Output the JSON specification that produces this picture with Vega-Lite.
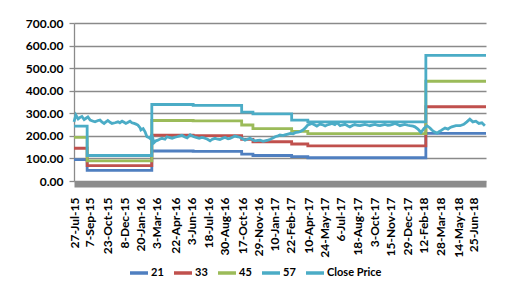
{
  "$schema": "https://vega.github.io/schema/vega-lite/v6.json",
  "autosize": {"type": "none"},
  "padding": {"left": 74, "top": 23, "right": 20, "bottom": 100},
  "width": 412,
  "height": 158,
  "background": "white",
  "config": {
    "view": {"stroke": null},
    "font": "Lato",
    "axis": {"labelFont": "Lato", "labelFontWeight": "bold", "labelFontSize": 12, "labelColor": "#000000"}
  },
  "datasets": {
    "steps": [
      {"date": "2015-07-27", "series": "21", "value": 95},
      {"date": "2015-08-31", "series": "21", "value": 47},
      {"date": "2016-02-19", "series": "21", "value": 133},
      {"date": "2016-06-08", "series": "21", "value": 131},
      {"date": "2016-10-15", "series": "21", "value": 119},
      {"date": "2016-11-14", "series": "21", "value": 113},
      {"date": "2017-02-25", "series": "21", "value": 108},
      {"date": "2017-04-09", "series": "21", "value": 103},
      {"date": "2018-02-17", "series": "21", "value": 211},
      {"date": "2018-07-27", "series": "21", "value": 211},
      {"date": "2015-07-27", "series": "33", "value": 145},
      {"date": "2015-08-31", "series": "33", "value": 68},
      {"date": "2016-02-19", "series": "33", "value": 203},
      {"date": "2016-06-08", "series": "33", "value": 201},
      {"date": "2016-10-15", "series": "33", "value": 184},
      {"date": "2016-11-14", "series": "33", "value": 174},
      {"date": "2017-02-25", "series": "33", "value": 164},
      {"date": "2017-04-09", "series": "33", "value": 156},
      {"date": "2018-02-17", "series": "33", "value": 329},
      {"date": "2018-07-27", "series": "33", "value": 329},
      {"date": "2015-07-27", "series": "45", "value": 193},
      {"date": "2015-08-31", "series": "45", "value": 89},
      {"date": "2016-02-19", "series": "45", "value": 268},
      {"date": "2016-06-08", "series": "45", "value": 266},
      {"date": "2016-10-15", "series": "45", "value": 248},
      {"date": "2016-11-14", "series": "45", "value": 232},
      {"date": "2017-02-25", "series": "45", "value": 220},
      {"date": "2017-04-09", "series": "45", "value": 210},
      {"date": "2018-02-17", "series": "45", "value": 442},
      {"date": "2018-07-27", "series": "45", "value": 442},
      {"date": "2015-07-27", "series": "57", "value": 243},
      {"date": "2015-08-31", "series": "57", "value": 113},
      {"date": "2016-02-19", "series": "57", "value": 339},
      {"date": "2016-06-08", "series": "57", "value": 335},
      {"date": "2016-10-15", "series": "57", "value": 305},
      {"date": "2016-11-14", "series": "57", "value": 297},
      {"date": "2017-02-25", "series": "57", "value": 270},
      {"date": "2017-04-09", "series": "57", "value": 262},
      {"date": "2018-02-17", "series": "57", "value": 557},
      {"date": "2018-07-27", "series": "57", "value": 557}
    ],
    "close": [
      {"date": "2015-07-27", "series": "Close Price", "value": 262},
      {"date": "2015-08-01", "series": "Close Price", "value": 292},
      {"date": "2015-08-07", "series": "Close Price", "value": 275},
      {"date": "2015-08-12", "series": "Close Price", "value": 282},
      {"date": "2015-08-17", "series": "Close Price", "value": 286},
      {"date": "2015-08-23", "series": "Close Price", "value": 272},
      {"date": "2015-08-28", "series": "Close Price", "value": 278},
      {"date": "2015-09-02", "series": "Close Price", "value": 284},
      {"date": "2015-09-08", "series": "Close Price", "value": 270},
      {"date": "2015-09-16", "series": "Close Price", "value": 265},
      {"date": "2015-09-21", "series": "Close Price", "value": 262},
      {"date": "2015-09-29", "series": "Close Price", "value": 268},
      {"date": "2015-10-04", "series": "Close Price", "value": 270},
      {"date": "2015-10-09", "series": "Close Price", "value": 262},
      {"date": "2015-10-15", "series": "Close Price", "value": 255},
      {"date": "2015-10-20", "series": "Close Price", "value": 262},
      {"date": "2015-10-25", "series": "Close Price", "value": 268},
      {"date": "2015-10-31", "series": "Close Price", "value": 260},
      {"date": "2015-11-05", "series": "Close Price", "value": 255},
      {"date": "2015-11-13", "series": "Close Price", "value": 258},
      {"date": "2015-11-21", "series": "Close Price", "value": 262},
      {"date": "2015-11-26", "series": "Close Price", "value": 258},
      {"date": "2015-12-02", "series": "Close Price", "value": 265},
      {"date": "2015-12-07", "series": "Close Price", "value": 260},
      {"date": "2015-12-12", "series": "Close Price", "value": 255},
      {"date": "2015-12-18", "series": "Close Price", "value": 260},
      {"date": "2015-12-23", "series": "Close Price", "value": 265},
      {"date": "2015-12-28", "series": "Close Price", "value": 258},
      {"date": "2016-01-03", "series": "Close Price", "value": 255},
      {"date": "2016-01-08", "series": "Close Price", "value": 252},
      {"date": "2016-01-13", "series": "Close Price", "value": 248},
      {"date": "2016-01-19", "series": "Close Price", "value": 235},
      {"date": "2016-01-21", "series": "Close Price", "value": 226},
      {"date": "2016-01-27", "series": "Close Price", "value": 232},
      {"date": "2016-02-01", "series": "Close Price", "value": 218},
      {"date": "2016-02-06", "series": "Close Price", "value": 196},
      {"date": "2016-02-12", "series": "Close Price", "value": 192},
      {"date": "2016-02-14", "series": "Close Price", "value": 189},
      {"date": "2016-02-19", "series": "Close Price", "value": 203},
      {"date": "2016-02-25", "series": "Close Price", "value": 170},
      {"date": "2016-03-01", "series": "Close Price", "value": 178},
      {"date": "2016-03-06", "series": "Close Price", "value": 181},
      {"date": "2016-03-12", "series": "Close Price", "value": 186},
      {"date": "2016-03-17", "series": "Close Price", "value": 189},
      {"date": "2016-03-25", "series": "Close Price", "value": 185},
      {"date": "2016-03-30", "series": "Close Price", "value": 196},
      {"date": "2016-04-07", "series": "Close Price", "value": 192},
      {"date": "2016-04-13", "series": "Close Price", "value": 189},
      {"date": "2016-04-21", "series": "Close Price", "value": 194},
      {"date": "2016-04-26", "series": "Close Price", "value": 196},
      {"date": "2016-05-04", "series": "Close Price", "value": 200},
      {"date": "2016-05-09", "series": "Close Price", "value": 203},
      {"date": "2016-05-17", "series": "Close Price", "value": 195},
      {"date": "2016-05-23", "series": "Close Price", "value": 191},
      {"date": "2016-05-31", "series": "Close Price", "value": 205},
      {"date": "2016-06-05", "series": "Close Price", "value": 200},
      {"date": "2016-06-10", "series": "Close Price", "value": 196},
      {"date": "2016-06-18", "series": "Close Price", "value": 192},
      {"date": "2016-06-24", "series": "Close Price", "value": 189},
      {"date": "2016-07-01", "series": "Close Price", "value": 193},
      {"date": "2016-07-07", "series": "Close Price", "value": 191},
      {"date": "2016-07-15", "series": "Close Price", "value": 186},
      {"date": "2016-07-23", "series": "Close Price", "value": 178},
      {"date": "2016-07-28", "series": "Close Price", "value": 184},
      {"date": "2016-08-05", "series": "Close Price", "value": 189},
      {"date": "2016-08-13", "series": "Close Price", "value": 185},
      {"date": "2016-08-18", "series": "Close Price", "value": 184},
      {"date": "2016-08-26", "series": "Close Price", "value": 190},
      {"date": "2016-09-01", "series": "Close Price", "value": 193},
      {"date": "2016-09-09", "series": "Close Price", "value": 187},
      {"date": "2016-09-14", "series": "Close Price", "value": 189},
      {"date": "2016-09-22", "series": "Close Price", "value": 195},
      {"date": "2016-09-27", "series": "Close Price", "value": 199},
      {"date": "2016-10-05", "series": "Close Price", "value": 196},
      {"date": "2016-10-11", "series": "Close Price", "value": 193},
      {"date": "2016-10-19", "series": "Close Price", "value": 186},
      {"date": "2016-10-24", "series": "Close Price", "value": 181},
      {"date": "2016-11-01", "series": "Close Price", "value": 186},
      {"date": "2016-11-06", "series": "Close Price", "value": 189},
      {"date": "2016-11-14", "series": "Close Price", "value": 182},
      {"date": "2016-11-19", "series": "Close Price", "value": 178},
      {"date": "2016-11-27", "series": "Close Price", "value": 180},
      {"date": "2016-12-03", "series": "Close Price", "value": 181},
      {"date": "2016-12-11", "series": "Close Price", "value": 176},
      {"date": "2016-12-16", "series": "Close Price", "value": 178},
      {"date": "2016-12-24", "series": "Close Price", "value": 181},
      {"date": "2016-12-29", "series": "Close Price", "value": 184},
      {"date": "2017-01-06", "series": "Close Price", "value": 190},
      {"date": "2017-01-12", "series": "Close Price", "value": 196},
      {"date": "2017-01-20", "series": "Close Price", "value": 200},
      {"date": "2017-01-25", "series": "Close Price", "value": 204},
      {"date": "2017-02-02", "series": "Close Price", "value": 201},
      {"date": "2017-02-07", "series": "Close Price", "value": 204},
      {"date": "2017-02-15", "series": "Close Price", "value": 208},
      {"date": "2017-02-21", "series": "Close Price", "value": 211},
      {"date": "2017-03-01", "series": "Close Price", "value": 209},
      {"date": "2017-03-06", "series": "Close Price", "value": 214},
      {"date": "2017-03-14", "series": "Close Price", "value": 216},
      {"date": "2017-03-19", "series": "Close Price", "value": 218},
      {"date": "2017-03-27", "series": "Close Price", "value": 226},
      {"date": "2017-04-01", "series": "Close Price", "value": 233},
      {"date": "2017-04-09", "series": "Close Price", "value": 248},
      {"date": "2017-04-15", "series": "Close Price", "value": 252},
      {"date": "2017-04-20", "series": "Close Price", "value": 255},
      {"date": "2017-04-28", "series": "Close Price", "value": 248},
      {"date": "2017-05-03", "series": "Close Price", "value": 243},
      {"date": "2017-05-11", "series": "Close Price", "value": 252},
      {"date": "2017-05-17", "series": "Close Price", "value": 250},
      {"date": "2017-05-25", "series": "Close Price", "value": 244},
      {"date": "2017-05-30", "series": "Close Price", "value": 248},
      {"date": "2017-06-07", "series": "Close Price", "value": 252},
      {"date": "2017-06-12", "series": "Close Price", "value": 255},
      {"date": "2017-06-20", "series": "Close Price", "value": 250},
      {"date": "2017-06-26", "series": "Close Price", "value": 258},
      {"date": "2017-07-04", "series": "Close Price", "value": 245},
      {"date": "2017-07-09", "series": "Close Price", "value": 248},
      {"date": "2017-07-17", "series": "Close Price", "value": 251},
      {"date": "2017-07-25", "series": "Close Price", "value": 244},
      {"date": "2017-07-30", "series": "Close Price", "value": 240},
      {"date": "2017-08-07", "series": "Close Price", "value": 247},
      {"date": "2017-08-12", "series": "Close Price", "value": 250},
      {"date": "2017-08-20", "series": "Close Price", "value": 246},
      {"date": "2017-08-26", "series": "Close Price", "value": 245},
      {"date": "2017-09-03", "series": "Close Price", "value": 249},
      {"date": "2017-09-08", "series": "Close Price", "value": 251},
      {"date": "2017-09-16", "series": "Close Price", "value": 247},
      {"date": "2017-09-21", "series": "Close Price", "value": 245},
      {"date": "2017-09-29", "series": "Close Price", "value": 249},
      {"date": "2017-10-05", "series": "Close Price", "value": 251},
      {"date": "2017-10-13", "series": "Close Price", "value": 246},
      {"date": "2017-10-18", "series": "Close Price", "value": 245},
      {"date": "2017-10-26", "series": "Close Price", "value": 249},
      {"date": "2017-10-31", "series": "Close Price", "value": 251},
      {"date": "2017-11-08", "series": "Close Price", "value": 247},
      {"date": "2017-11-14", "series": "Close Price", "value": 248},
      {"date": "2017-11-22", "series": "Close Price", "value": 252},
      {"date": "2017-11-27", "series": "Close Price", "value": 255},
      {"date": "2017-12-05", "series": "Close Price", "value": 249},
      {"date": "2017-12-10", "series": "Close Price", "value": 245},
      {"date": "2017-12-18", "series": "Close Price", "value": 249},
      {"date": "2017-12-23", "series": "Close Price", "value": 251},
      {"date": "2017-12-31", "series": "Close Price", "value": 247},
      {"date": "2018-01-06", "series": "Close Price", "value": 245},
      {"date": "2018-01-14", "series": "Close Price", "value": 243},
      {"date": "2018-01-19", "series": "Close Price", "value": 240},
      {"date": "2018-01-27", "series": "Close Price", "value": 230},
      {"date": "2018-02-04", "series": "Close Price", "value": 215},
      {"date": "2018-02-12", "series": "Close Price", "value": 233},
      {"date": "2018-02-20", "series": "Close Price", "value": 245},
      {"date": "2018-02-28", "series": "Close Price", "value": 235},
      {"date": "2018-03-05", "series": "Close Price", "value": 226},
      {"date": "2018-03-11", "series": "Close Price", "value": 218},
      {"date": "2018-03-19", "series": "Close Price", "value": 212},
      {"date": "2018-03-24", "series": "Close Price", "value": 218},
      {"date": "2018-03-30", "series": "Close Price", "value": 224},
      {"date": "2018-04-04", "series": "Close Price", "value": 230},
      {"date": "2018-04-09", "series": "Close Price", "value": 235},
      {"date": "2018-04-17", "series": "Close Price", "value": 230},
      {"date": "2018-04-22", "series": "Close Price", "value": 236},
      {"date": "2018-04-27", "series": "Close Price", "value": 240},
      {"date": "2018-05-08", "series": "Close Price", "value": 245},
      {"date": "2018-05-19", "series": "Close Price", "value": 245},
      {"date": "2018-05-24", "series": "Close Price", "value": 248},
      {"date": "2018-05-29", "series": "Close Price", "value": 251},
      {"date": "2018-06-06", "series": "Close Price", "value": 262},
      {"date": "2018-06-14", "series": "Close Price", "value": 274},
      {"date": "2018-06-22", "series": "Close Price", "value": 262},
      {"date": "2018-06-30", "series": "Close Price", "value": 265},
      {"date": "2018-07-08", "series": "Close Price", "value": 255},
      {"date": "2018-07-16", "series": "Close Price", "value": 258},
      {"date": "2018-07-24", "series": "Close Price", "value": 245}
    ]
  },
  "encoding": {
    "x": {
      "field": "date",
      "type": "temporal",
      "title": null,
      "scale": {
        "type": "utc",
        "nice": false,
        "domain": [
          {"year": 2015, "month": 7, "date": 27, "utc": true},
          {"year": 2018, "month": 7, "date": 27, "utc": true}
        ]
      },
      "axis": {
        "values": [
          {"year": 2015, "month": 7, "date": 27, "utc": true},
          {"year": 2015, "month": 9, "date": 7, "utc": true},
          {"year": 2015, "month": 10, "date": 23, "utc": true},
          {"year": 2015, "month": 12, "date": 8, "utc": true},
          {"year": 2016, "month": 1, "date": 20, "utc": true},
          {"year": 2016, "month": 3, "date": 3, "utc": true},
          {"year": 2016, "month": 4, "date": 22, "utc": true},
          {"year": 2016, "month": 6, "date": 3, "utc": true},
          {"year": 2016, "month": 7, "date": 18, "utc": true},
          {"year": 2016, "month": 8, "date": 30, "utc": true},
          {"year": 2016, "month": 10, "date": 17, "utc": true},
          {"year": 2016, "month": 11, "date": 29, "utc": true},
          {"year": 2017, "month": 1, "date": 10, "utc": true},
          {"year": 2017, "month": 2, "date": 22, "utc": true},
          {"year": 2017, "month": 4, "date": 10, "utc": true},
          {"year": 2017, "month": 5, "date": 24, "utc": true},
          {"year": 2017, "month": 7, "date": 6, "utc": true},
          {"year": 2017, "month": 8, "date": 18, "utc": true},
          {"year": 2017, "month": 10, "date": 3, "utc": true},
          {"year": 2017, "month": 11, "date": 15, "utc": true},
          {"year": 2017, "month": 12, "date": 29, "utc": true},
          {"year": 2018, "month": 2, "date": 12, "utc": true},
          {"year": 2018, "month": 3, "date": 28, "utc": true},
          {"year": 2018, "month": 5, "date": 14, "utc": true},
          {"year": 2018, "month": 6, "date": 25, "utc": true}
        ],
        "labelExpr": "utcFormat(datum.value, '%-d-%b-%y')",
        "labelAngle": -90,
        "labelAlign": "right",
        "labelBaseline": "middle",
        "labelPadding": 13,
        "labelOverlap": false,
        "labelBound": false,
        "labelFlush": false,
        "ticks": false,
        "grid": false,
        "offset": 3,
        "domainColor": "#8c8c8c",
        "domainWidth": 6,
        "domainCap": "butt"
      }
    },
    "y": {
      "field": "value",
      "type": "quantitative",
      "title": null,
      "scale": {"domain": [0, 700], "nice": false},
      "axis": {
        "values": [0, 100, 200, 300, 400, 500, 600, 700],
        "format": ".2f",
        "grid": true,
        "gridColor": "#8a8a8a",
        "gridWidth": 1.3,
        "domainColor": "#8a8a8a",
        "domainWidth": 1.3,
        "tickColor": "#8a8a8a",
        "tickWidth": 1.3,
        "tickSize": 5,
        "labelPadding": 6
      }
    },
    "color": {
      "field": "series",
      "type": "nominal",
      "scale": {
        "domain": ["21", "33", "45", "57", "Close Price"],
        "range": ["#4F7FC0", "#C0504D", "#9BBB59", "#4BACC6", "#4BACC6"]
      },
      "legend": {
        "orient": "none",
        "legendX": 54,
        "legendY": 239,
        "direction": "horizontal",
        "title": null,
        "symbolType": "stroke",
        "symbolSize": 324,
        "symbolStrokeWidth": 3.5,
        "labelFont": "Lato",
        "labelFontWeight": "bold",
        "labelFontSize": 11,
        "labelColor": "#000000",
        "labelOffset": 1,
        "columnPadding": 3
      }
    }
  },
  "layer": [
    {
      "data": {"name": "steps"},
      "mark": {"type": "line", "interpolate": "step-after", "strokeWidth": 2.8}
    },
    {
      "data": {"name": "close"},
      "mark": {"type": "line", "strokeWidth": 2.8}
    }
  ]
}
